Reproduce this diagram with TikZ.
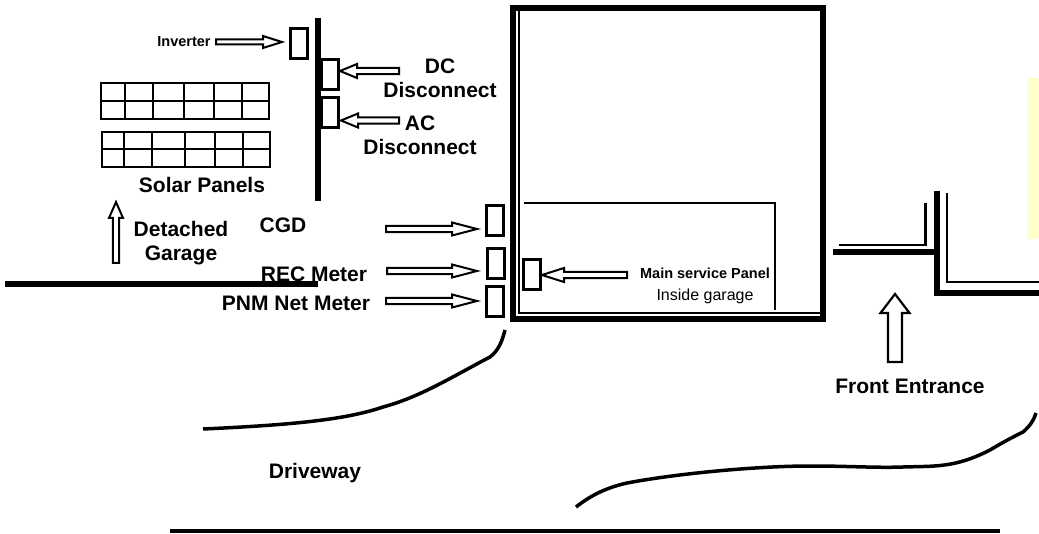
\documentclass[tikz,border=0pt]{standalone}
\usepackage{fontspec}
\setmainfont{Liberation Sans}
\usetikzlibrary{calc}
\definecolor{notecolor}{HTML}{FFFFCC}
\tikzset{
    biglabel/.style={font=\bfseries\fontsize{21}{24}\selectfont,align=center},
    tinylabel/.style={font=\bfseries\fontsize{14.5}{17}\selectfont},
    plainlabel/.style={font=\fontsize{16}{19}\selectfont},
    unitbox/.style={draw,line width=3pt,minimum width=17pt,minimum height=30pt,inner sep=0pt},
    wall/.style={line width=6pt},
    thinwall/.style={line width=2.5pt},
    road/.style={line width=3.5pt},
    panel/.style={line width=2pt},
    %% shaft half width, head half width, head length
    blockarrow/.style n args={3}{line width=2pt,to path={
        ($(\tikztotarget)!#3!(\tikztostart)$) coordinate (headbase)
        ($(\tikztostart)!#1!90:(\tikztotarget)$) -- ($(headbase)!#1!90:(\tikztotarget)$)
        -- ($(headbase)!#2!90:(\tikztotarget)$) -- (\tikztotarget)
        -- ($(headbase)!#2!-90:(\tikztotarget)$) -- ($(headbase)!#1!-90:(\tikztotarget)$)
        -- ($(\tikztostart)!#1!-90:(\tikztotarget)$) -- cycle}}
}
\begin{document}
\begin{tikzpicture}[x=1pt,y=-1pt]
    \useasboundingbox (0,0) rectangle (1039,534);
    %% Note strip
    \fill[notecolor] (1027,78) rectangle (1039,239);
    %% Solar panels
    \draw[panel] (101,83) rectangle (269,119) (101,101) -- (269,101);
    \draw[panel] (125,83) -- (125,119) (153,83) -- (153,119) (184,83) -- (184,119) (214,83) -- (214,119) (242,83) -- (242,119);
    \draw[panel] (102,132) rectangle (270,167) (102,149) -- (270,149);
    \draw[panel] (124,132) -- (124,167) (152,132) -- (152,167) (185,132) -- (185,167) (215,132) -- (215,167) (243,132) -- (243,167);
    %% Garage wall with its units
    \draw[line width=5.5pt] (318,18) -- (318,201);
    \node[unitbox] (inverter) at (299,43.5) {};
    \node[unitbox] (dcbox) at (330,74.5) {};
    \node[unitbox] (acbox) at (330,113) {};
    \node[unitbox] (cgdbox) at (495,221) {};
    \node[unitbox] (recbox) at (496,263.5) {};
    \node[unitbox] (pnmbox) at (495,301.5) {};
    \node[unitbox] (mainbox) at (532,275) {};
    %% Labels
    \node[tinylabel,anchor=base] (invlabel) at (184,47) {Inverter};
    \node[biglabel] (dclabel) at (440,78) {DC\\Disconnect};
    \node[biglabel] (aclabel) at (420,135) {AC\\Disconnect};
    \node[biglabel,anchor=base] (solarlabel) at (202,193) {Solar Panels};
    \node[biglabel] (garagelabel) at (181,243) {Detached\\Garage};
    \node[biglabel,anchor=base] (cgdlabel) at (283,233) {CGD};
    \node[biglabel,anchor=base] (reclabel) at (314,282) {REC Meter};
    \node[biglabel,anchor=base] (pnmlabel) at (296,311) {PNM Net Meter};
    \node[tinylabel,anchor=base] (mainlabel) at (705,279) {Main service Panel};
    \node[plainlabel,anchor=base] (insidelabel) at (705,301) {Inside garage};
    \node[biglabel,anchor=base] (frontlabel) at (910,394) {Front Entrance};
    \node[biglabel,anchor=base] (drivelabel) at (315,478) {Driveway};
    %% Ground
    \draw[line width=5.5pt] (5,284) -- (318,284);
    %% Arrow ends
    \coordinate (invtail) at (216,42);
    \coordinate (invtip) at ($(inverter.west)+(-7,-1.5)$);
    \coordinate (dctail) at (399,71);
    \coordinate (dctip) at ($(dcbox.east)+(0,-3.5)$);
    \coordinate (actail) at (399,120.5);
    \coordinate (actip) at ($(acbox.east)+(1,7.5)$);
    \coordinate (cgdtail) at (386,229);
    \coordinate (cgdtip) at ($(cgdbox.west)+(-8,8)$);
    \coordinate (rectail) at (387,271);
    \coordinate (rectip) at ($(recbox.west)+(-9,7.5)$);
    \coordinate (pnmtail) at (386,301);
    \coordinate (pnmtip) at ($(pnmbox.west)+(-8,-0.5)$);
    \coordinate (maintail) at (627,275);
    \coordinate (maintip) at (mainbox.east);
    \coordinate (uptail) at (116,263);
    \coordinate (uptip) at (116,202);
    \coordinate (fronttail) at (895,362);
    \coordinate (fronttip) at (895,294);
    %% Arrows
    \draw[blockarrow={2.5pt}{6pt}{19pt}] (invtail) to (invtip);
    \draw[blockarrow={3.2pt}{7pt}{17pt}] (dctail) to (dctip);
    \draw[blockarrow={3.2pt}{7pt}{17pt}] (actail) to (actip);
    \draw[blockarrow={3.2pt}{6.5pt}{25pt}] (cgdtail) to (cgdtip);
    \draw[blockarrow={3.2pt}{6.5pt}{25pt}] (rectail) to (rectip);
    \draw[blockarrow={3.2pt}{6.5pt}{25pt}] (pnmtail) to (pnmtip);
    \draw[blockarrow={3.2pt}{7pt}{22pt}] (maintail) to (maintip);
    \draw[blockarrow={3.2pt}{7pt}{16pt}] (uptail) to (uptip);
    \draw[blockarrow={7pt}{14.5pt}{19pt},line width=2.2pt] (fronttail) to (fronttip);
    %% Main building
    \draw[wall] (513,8) rectangle (823,319);
    \draw[line width=2pt] (519,11) -- (519,313) -- (820,313);
    \draw[line width=2pt] (524,203) -- (775,203) -- (775,310);
    %% Neighbour house
    \draw[wall] (833,252) -- (934,252);
    \draw[wall] (937,191) -- (937,293) -- (1039,293);
    \draw[thinwall] (839,245) -- (925.5,245) -- (925.5,203);
    \draw[thinwall] (947,193) -- (947,282) -- (1039,282);
    %% Driveway
    \draw[road] (203,429) .. controls (290,425) and (345,420) .. (383,407) .. controls (420,397) and (450,378) .. (490,357) .. controls (498,351) and (502,342) .. (505,330);
    \draw[road] (576,507) .. controls (590,496) and (605,488) .. (627,483) .. controls (680,473) and (760,466) .. (810,466) .. controls (850,466) and (875,468) .. (903,467) .. controls (935,466) and (955,468) .. (990,450) .. controls (1005,441) and (1015,436) .. (1023,432) .. controls (1030,426) and (1034,420) .. (1036,413);
    \draw[line width=4pt] (170,531) -- (1000,531);
\end{tikzpicture}
\end{document}
